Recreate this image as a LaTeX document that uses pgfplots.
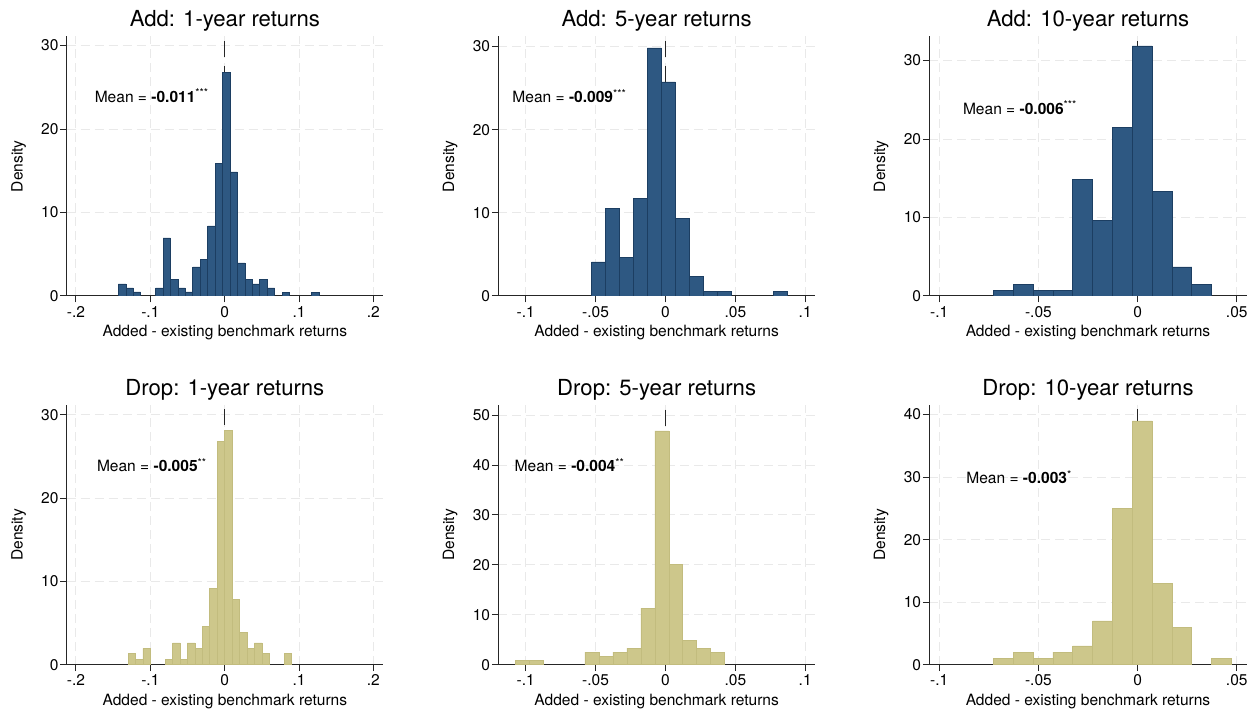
\documentclass[border=0pt]{standalone}
\usepackage{fontspec}
\setmainfont{TeX Gyre Heros}
\usepackage{pgfplots}
\pgfplotsset{compat=1.18}
\definecolor{addfill}{RGB}{46,88,130}
\definecolor{adddraw}{RGB}{28,62,98}
\definecolor{dropfill}{RGB}{205,199,139}
\definecolor{dropdraw}{RGB}{194,188,126}
\definecolor{gridc}{RGB}{233,233,233}
\pgfplotsset{
  stata/.style={
    scale only axis, height=259.5bp,
    anchor=south west,
    axis x line*=bottom, axis y line*=left,
    axis line style={-, line width=1bp, black!85},
    tick style={line width=1bp, black!85},
    tick align=outside, major tick length=6.5bp,
    ymin=0,
    grid=major,
    major grid style={gridc, line width=1bp, dash pattern=on 9bp off 5bp},
    tick label style={font=\fontsize{15.6}{17}\selectfont},
    yticklabel style={inner sep=1.5bp},
    label style={font=\fontsize{15.6}{17}\selectfont},
    every axis title shift=0pt,
    title style={font=\fontsize{22.2}{25}\selectfont, at={(axis description cs:0.5,1)}, anchor=base, yshift=10bp},
    ylabel={Density}, xlabel={Added - existing benchmark returns},
    ylabel style={at={(axis description cs:-0.152,0.5)}, anchor=center},
    xlabel style={at={(axis description cs:0.5,-0.1426)}, anchor=center},
    ytick={0,10,20,30,40,50},
    /pgf/number format/assume math mode=true,
  },
  addbar/.style={ybar interval, fill=addfill, draw=adddraw, line width=0.6bp},
  dropbar/.style={ybar interval, fill=dropfill, draw=dropdraw, line width=0.6bp},
}
\tikzset{
  zline/.style={black!85, line width=1.5bp, dash pattern=on 16bp off 9bp, dash phase=20.7bp},
  meantext/.style={anchor=west, inner sep=0pt, font=\fontsize{15.6}{17}\selectfont},
}
\begin{document}
\begin{tikzpicture}
\useasboundingbox (0,0) rectangle (1255bp,711bp);

% ---------- Add: 1-year ----------
\begin{axis}[stata, at={(66.7bp,415bp)}, width=316.3bp,
  xmin=-0.2125, xmax=0.213, ymax=31.08,
  xtick={-0.2,-0.1,0,0.1,0.2}, xticklabels={-.2,-.1,0,.1,.2},
  title={Add: 1-year returns}]
\draw[zline] (axis cs:0,31.08) -- (axis cs:0,0);
\addplot[addbar] coordinates {(-0.1429,1.44) (-0.1329,0.96) (-0.1229,0.48) (-0.1129,0)};
\addplot[addbar] coordinates {
(-0.0929,0.96) (-0.0829,6.95) (-0.0729,2.0) (-0.0629,0.96) (-0.0529,0.48)
(-0.0429,3.48) (-0.0329,4.43) (-0.0229,8.39) (-0.0129,15.86) (-0.0029,26.8)
(0.0071,14.86) (0.0171,3.96) (0.0271,2.0) (0.0371,1.44) (0.0471,2.0)
(0.0571,0.96) (0.0671,0)};
\addplot[addbar] coordinates {(0.0771,0.48) (0.0871,0)};
\addplot[addbar] coordinates {(0.1171,0.48) (0.1271,0)};
\node[meantext] at (axis cs:-0.175,24) {Mean = \textbf{-0.011}\textsuperscript{***}};
\end{axis}

% ---------- Add: 5-year ----------
\begin{axis}[stata, at={(498.3bp,415bp)}, width=316.7bp,
  xmin=-0.1196, xmax=0.107, ymax=31.2,
  xtick={-0.1,-0.05,0,0.05,0.1}, xticklabels={-.1,-.05,0,.05,.1},
  title={Add: 5-year returns}]
\draw[zline] (axis cs:0,31.2) -- (axis cs:0,0);
\addplot[addbar] coordinates {
(-0.0529,4.09) (-0.0429,10.53) (-0.0329,4.68) (-0.0229,11.70) (-0.0129,29.82)
(-0.0029,25.73) (0.0071,9.36) (0.0171,2.34) (0.0271,0.58) (0.0371,0.58)
(0.0471,0)};
\addplot[addbar] coordinates {(0.0771,0.58) (0.0871,0)};
\node[meantext] at (axis cs:-0.1096,24) {Mean = \textbf{-0.009}\textsuperscript{***}};
\end{axis}

% ---------- Add: 10-year ----------
\begin{axis}[stata, at={(929.3bp,415bp)}, width=317.4bp,
  xmin=-0.105, xmax=0.055, ymax=33.06,
  xtick={-0.1,-0.05,0,0.05}, xticklabels={-.1,-.05,0,.05},
  title={Add: 10-year returns}]
\draw[zline] (axis cs:0,33.06) -- (axis cs:0,0);
\addplot[addbar] coordinates {
(-0.0727,0.74) (-0.0627,1.48) (-0.0527,0.74) (-0.0427,0.74) (-0.0327,14.81)
(-0.0227,9.63) (-0.0127,21.48) (-0.0027,31.85) (0.0073,13.33) (0.0173,3.70)
(0.0273,1.48) (0.0373,0)};
\node[meantext] at (axis cs:-0.0881,24) {Mean = \textbf{-0.006}\textsuperscript{***}};
\end{axis}

% ---------- Drop: 1-year ----------
\begin{axis}[stata, at={(66.7bp,46.3bp)}, width=316.3bp,
  xmin=-0.2125, xmax=0.213, ymax=31.16,
  xtick={-0.2,-0.1,0,0.1,0.2}, xticklabels={-.2,-.1,0,.1,.2},
  title={Drop: 1-year returns}]
\draw[zline] (axis cs:0,31.16) -- (axis cs:0,0);
\addplot[dropbar] coordinates {(-0.13,1.31) (-0.12,0.65) (-0.11,1.96) (-0.10,0)};
\addplot[dropbar] coordinates {
(-0.08,0.65) (-0.07,2.61) (-0.06,0.65) (-0.05,2.61) (-0.04,1.96) (-0.03,4.58)
(-0.02,9.15) (-0.01,26.80) (0,28.10) (0.01,7.84) (0.02,3.92) (0.03,1.96)
(0.04,2.61) (0.05,1.31) (0.06,0)};
\addplot[dropbar] coordinates {(0.08,1.31) (0.09,0)};
\node[meantext] at (axis cs:-0.172,24) {Mean = \textbf{-0.005}\textsuperscript{**}};
\end{axis}

% ---------- Drop: 5-year ----------
\begin{axis}[stata, at={(498.3bp,46.3bp)}, width=316.7bp,
  xmin=-0.1196, xmax=0.107, ymax=52.0,
  xtick={-0.1,-0.05,0,0.05,0.1}, xticklabels={-.1,-.05,0,.05,.1},
  title={Drop: 5-year returns}]
\draw[zline] (axis cs:0,52.0) -- (axis cs:0,0);
\addplot[dropbar] coordinates {(-0.1076,0.93) (-0.0976,0.93) (-0.0876,0)};
\addplot[dropbar] coordinates {
(-0.0576,2.54) (-0.0476,1.74) (-0.0376,2.54) (-0.0276,3.34) (-0.0176,11.35)
(-0.0076,46.86) (0.0024,20.16) (0.0124,4.94) (0.0224,3.34) (0.0324,2.54)
(0.0424,0)};
\node[meantext] at (axis cs:-0.108,40) {Mean = \textbf{-0.004}\textsuperscript{**}};
\end{axis}

% ---------- Drop: 10-year ----------
\begin{axis}[stata, at={(929.3bp,46.3bp)}, width=317.4bp,
  xmin=-0.105, xmax=0.055, ymax=41.5,
  xtick={-0.1,-0.05,0,0.05}, xticklabels={-.1,-.05,0,.05},
  title={Drop: 10-year returns}]
\draw[zline] (axis cs:0,41.5) -- (axis cs:0,0);
\addplot[dropbar] coordinates {
(-0.0727,1) (-0.0627,2) (-0.0527,1) (-0.0427,2) (-0.0327,3) (-0.0227,7)
(-0.0127,25) (-0.0027,39) (0.0073,13) (0.0173,6) (0.0273,0)};
\addplot[dropbar] coordinates {(0.0373,1) (0.0473,0)};
\node[meantext] at (axis cs:-0.0864,30) {Mean = \textbf{-0.003}\textsuperscript{*}};
\end{axis}
\end{tikzpicture}
\end{document}
